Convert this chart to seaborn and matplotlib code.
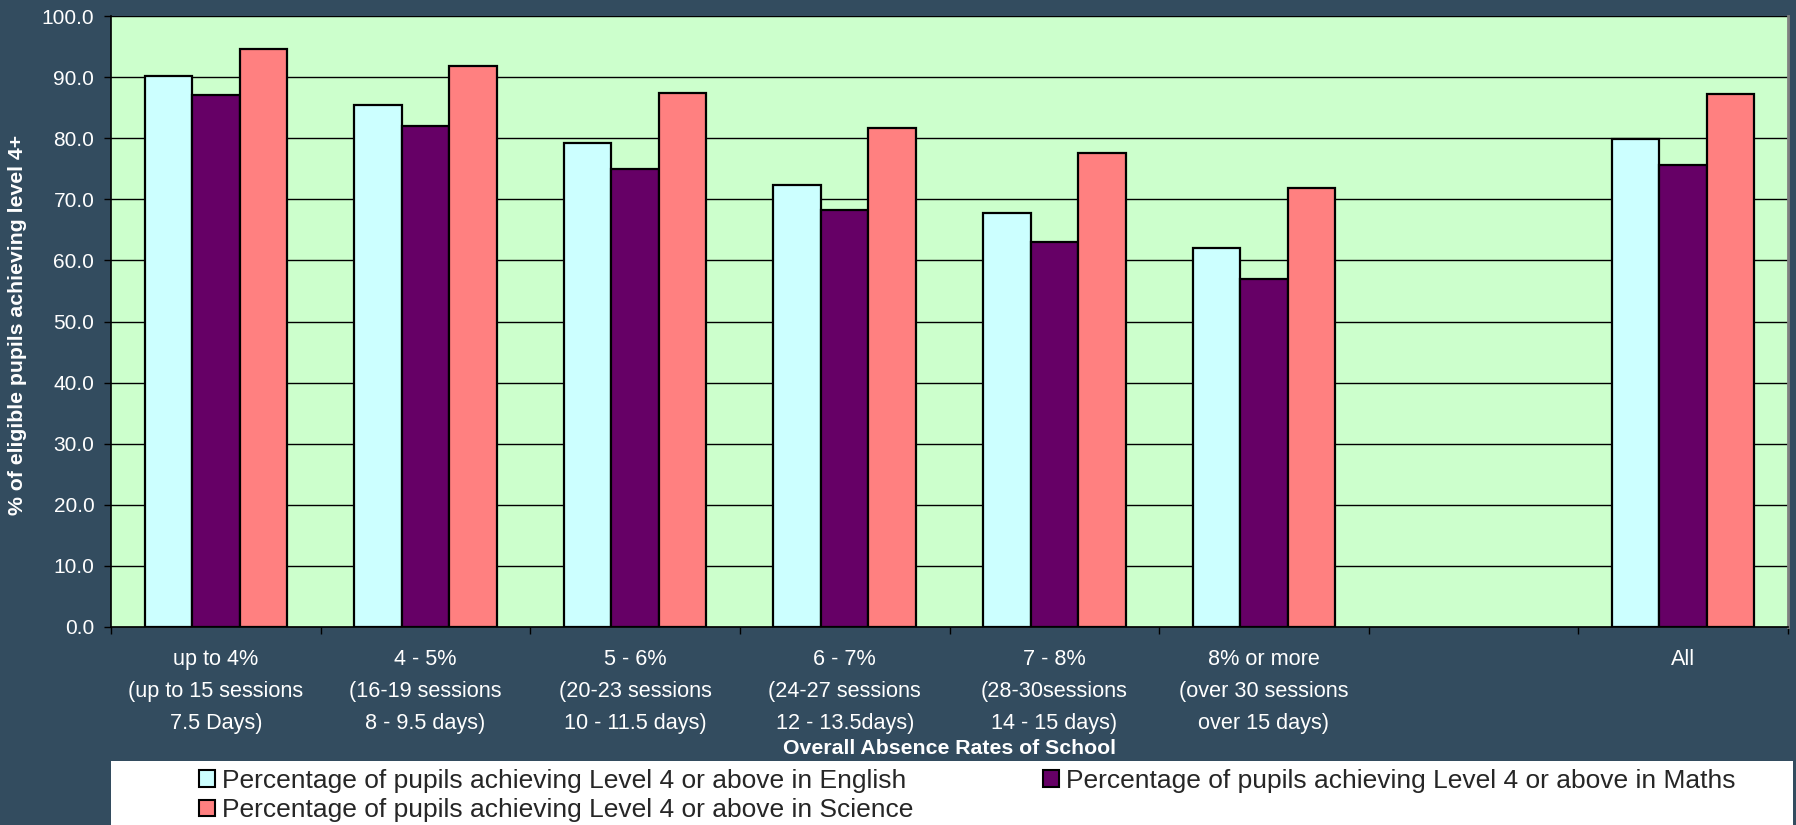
import numpy as np
import pandas as pd
import matplotlib.pyplot as plt
import seaborn as sns
from matplotlib.patches import Patch, Rectangle

# Data
groups = ["up to 4%", "4 - 5%", "5 - 6%", "6 - 7%", "7 - 8%", "8% or more", "All"]
order = ["up to 4%", "4 - 5%", "5 - 6%", "6 - 7%", "7 - 8%", "8% or more", "gap", "All"]
tick_labels = ["up to 4%\n(up to 15 sessions\n7.5 Days)",
               "4 - 5%\n(16-19 sessions\n8 - 9.5 days)",
               "5 - 6%\n(20-23 sessions\n10 - 11.5 days)",
               "6 - 7%\n(24-27 sessions\n12 - 13.5days)",
               "7 - 8%\n(28-30sessions\n14 - 15 days)",
               "8% or more\n(over 30 sessions\nover 15 days)",
               "",
               "All\n\n"]
subjects = ["English", "Maths", "Science"]
english = [90.2, 85.5, 79.2, 72.3, 67.8, 62.1, 79.8]
maths = [87.0, 82.0, 75.0, 68.2, 63.0, 57.0, 75.6]
science = [94.6, 91.8, 87.4, 81.7, 77.5, 71.9, 87.3]
legend_labels = ["Percentage of pupils achieving Level 4 or above in English",
                 "Percentage of pupils achieving Level 4 or above in Maths",
                 "Percentage of pupils achieving Level 4 or above in Science"]

colors = {"English": "#CCFFFF", "Maths": "#660066", "Science": "#FF8080"}
bg = "#334C5F"

df = pd.DataFrame({
    "group": groups * 3,
    "subject": [s for s in subjects for _ in groups],
    "value": english + maths + science,
})

sns.set_style("white")
plt.rcParams["font.family"] = ["Liberation Sans", "DejaVu Sans"]

fig = plt.figure(figsize=(17.96, 8.25), dpi=100, facecolor=bg)
ax = fig.add_axes([111 / 1796, 1 - 627 / 825, (1788 - 111) / 1796, (627 - 16) / 825])
ax.set_facecolor("#CCFFCC")

sns.barplot(data=df, x="group", y="value", hue="subject", order=order,
            hue_order=subjects, palette=colors, saturation=1, width=0.68,
            edgecolor="black", linewidth=1.6, errorbar=None, legend=False, ax=ax)

ax.set_ylim(0, 100)
ax.set_xlim(-0.5, len(order) - 0.5)
ax.set_yticks(np.arange(0, 101, 10))
ax.set_yticklabels([f"{v:.1f}" for v in np.arange(0, 101, 10)])
ax.yaxis.grid(True, color="black", linewidth=1)
ax.set_axisbelow(True)

# category boundaries as major ticks, labels at centres as minor ticks
ax.set_xticks(np.arange(-0.5, len(order), 1.0))
ax.set_xticklabels([])
ax.set_xticks(np.arange(len(order)), minor=True)
ax.set_xticklabels(tick_labels, minor=True, linespacing=1.68)
ax.tick_params(axis="x", which="major", bottom=True, length=5, width=1, color="black")
ax.tick_params(axis="x", which="minor", bottom=True, length=0, pad=16,
               labelsize=15.6, labelcolor="white")
ax.tick_params(axis="y", left=True, length=5, width=1, color="black",
               labelsize=15, labelcolor="white", pad=7)

for side in ["left", "bottom"]:
    ax.spines[side].set_color("black")
    ax.spines[side].set_linewidth(1.2)
ax.spines["top"].set_visible(False)
ax.spines["right"].set_color("#808080")
ax.spines["right"].set_linewidth(2)

ax.set_xlabel("Overall Absence Rates of School", color="white", fontsize=15.3,
              fontweight="bold", labelpad=0)
ax.xaxis.set_label_coords(0.5, -0.184)
ax.set_ylabel("")
fig.text(18 / 1796, 1 - 325 / 825, "% of eligible pupils achieving level 4+",
         rotation=90, ha="center", va="center", color="white",
         fontsize=15.3, fontweight="bold")

# white legend strip
fig.patches.append(Rectangle((111 / 1796, 0), (1793 - 111) / 1796, 64 / 825,
                             transform=fig.transFigure, facecolor="white",
                             edgecolor="none", zorder=0))

def handle(s):
    return Patch(facecolor=colors[s], edgecolor="black", linewidth=1.5)

leg_kw = dict(frameon=False, fontsize=19, handlelength=0.6, handleheight=0.6,
              handletextpad=0.27, labelspacing=0.2, borderpad=0, borderaxespad=0,
              loc="upper left")
leg1 = fig.legend([handle("English"), handle("Science")],
                  [legend_labels[0], legend_labels[2]],
                  bbox_to_anchor=(199 / 1796, 1 - 769 / 825), **leg_kw)
leg2 = fig.legend([handle("Maths")], [legend_labels[1]],
                  bbox_to_anchor=(1043 / 1796, 1 - 769 / 825), **leg_kw)

fig.savefig("out.png", dpi=100, facecolor=bg)
